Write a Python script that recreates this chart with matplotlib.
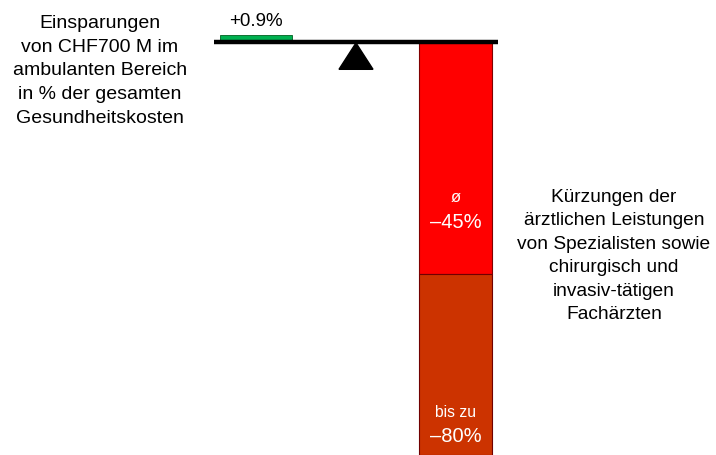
import matplotlib.pyplot as plt
from matplotlib.patches import Polygon

plt.rcParams['font.family'] = ['Liberation Sans', 'DejaVu Sans']

# values in % of total health costs
gain = 0.9
avg_cut = -45
max_cut = -80

left_text = "Einsparungen\nvon CHF700 M im\nambulanten Bereich\nin % der gesamten\nGesundheitskosten"
right_text = ("Kürzungen der\närztlichen Leistungen\nvon Spezialisten sowie\n"
              "chirurgisch und\ninvasiv-tätigen\nFachärzten")

fig = plt.figure(figsize=(7.16, 4.56), dpi=100)
ax = fig.add_axes([0, 0, 1, 1])
ax.set_xlim(0, 716)
ax.set_ylim(max_cut, 8.2)
ax.axis('off')

# green gain bar sitting on the beam
ax.bar(256, gain, width=72, bottom=0.3, color='#00B050', edgecolor='#006020', linewidth=0.6)
ax.text(256, 4.0, f"+{gain}%", ha='center', va='center', fontsize=13.5)

# stacked cut bars below the beam
ax.bar(455.5, avg_cut, width=73, color='#FF0000', edgecolor='#800000', linewidth=0.8, zorder=2)
ax.bar(455.5, max_cut - avg_cut, width=73, bottom=avg_cut, color='#CC3300',
       edgecolor='#700000', linewidth=0.8, zorder=2)

ax.text(455.5, -30.0, "ø", ha='center', va='center', color='white', fontsize=12)
ax.text(455.5, -34.8, f"–{abs(avg_cut)}%", ha='center', va='center', color='white', fontsize=14.5)
ax.text(455.5, -71.5, "bis zu", ha='center', va='center', color='white', fontsize=11.3)
ax.text(455.5, -76.3, f"–{abs(max_cut)}%", ha='center', va='center', color='white', fontsize=14.5)

# beam and pivot
ax.plot([214, 498], [-0.2, -0.2], color='black', linewidth=3.2, solid_capstyle='butt', zorder=3)
ax.add_patch(Polygon([[356, -0.3], [339, -5.4], [373, -5.4]], closed=True,
                     color='black', zorder=3))

ax.text(100, -5.5, left_text, ha='center', va='center', fontsize=14, linespacing=1.52)
ax.text(614, -41.3, right_text, ha='center', va='center', fontsize=13.8, linespacing=1.5)

fig.savefig("out.png", dpi=100)
